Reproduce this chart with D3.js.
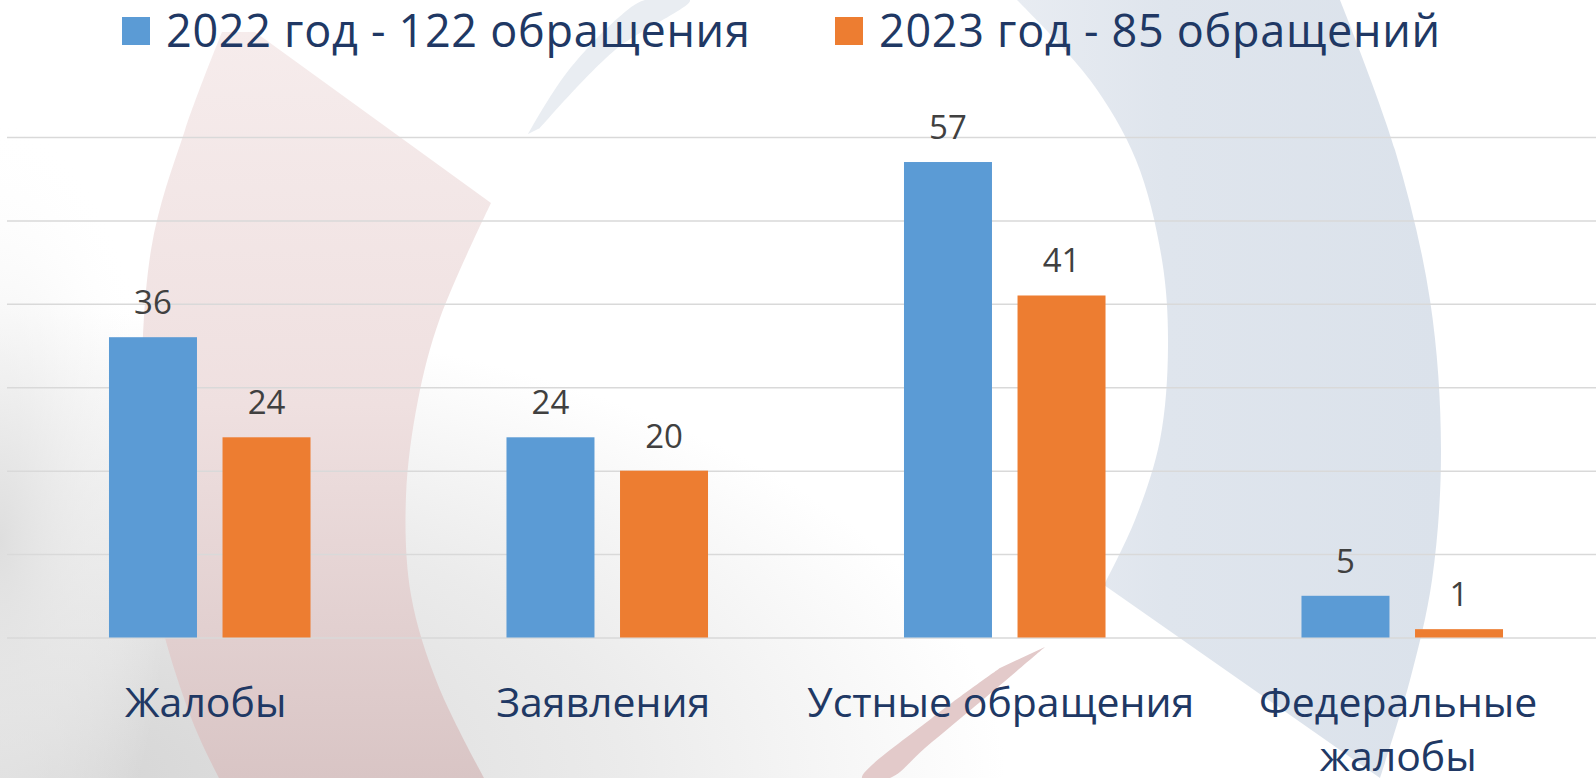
<!DOCTYPE html>
<html>
<head>
<meta charset="utf-8">
<script src="https://cdn.jsdelivr.net/npm/d3@7"></script>
<style>
  body { margin: 0; overflow: hidden; background: #fff; }
</style>
</head>
<body>
<script>
var categories = ["Жалобы", "Заявления", "Устные обращения", "Федеральные жалобы"];
var seriesNames = ["2022 год - 122 обращения", "2023 год - 85 обращений"];
var values2022 = [36, 24, 57, 5];
var values2023 = [24, 20, 41, 1];
var yTicks = [0, 10, 20, 30, 40, 50, 60];
var colors = ["#5b9bd5", "#ed7d31"];

var w = 1596;
var h = 778;
var font = "'Open Sans', 'Noto Sans', sans-serif";

var svg = d3.select("body")
            .append("svg")
            .attr("width", w)
            .attr("height", h);

// --- background decoration (slide template swooshes) ---
var defs = svg.append("defs");

var gGray = defs.append("radialGradient").attr("id", "gray")
    .attr("cx", 0.03).attr("cy", 1.0).attr("r", 0.6);
gGray.append("stop").attr("offset", 0).attr("stop-color", "#d4d4d4");
gGray.append("stop").attr("offset", 0.6).attr("stop-color", "#ebebeb");
gGray.append("stop").attr("offset", 1).attr("stop-color", "#ffffff");

var gLeft = defs.append("radialGradient").attr("id", "left")
    .attr("gradientUnits", "userSpaceOnUse")
    .attr("cx", 0).attr("cy", 0).attr("r", 1)
    .attr("gradientTransform", "translate(0,540) scale(170,420)");
gLeft.append("stop").attr("offset", 0).attr("stop-color", "#dedede").attr("stop-opacity", 1);
gLeft.append("stop").attr("offset", 1).attr("stop-color", "#ffffff").attr("stop-opacity", 0);

var gPink = defs.append("linearGradient").attr("id", "pink")
    .attr("x1", 0).attr("y1", 0).attr("x2", 0).attr("y2", 1);
gPink.append("stop").attr("offset", 0).attr("stop-color", "#f6ecec");
gPink.append("stop").attr("offset", 0.5).attr("stop-color", "#efe0e0");
gPink.append("stop").attr("offset", 1).attr("stop-color", "#d9c5c5");

var gBlue = defs.append("linearGradient").attr("id", "blue")
    .attr("x1", 0).attr("y1", 0).attr("x2", 1).attr("y2", 0);
gBlue.append("stop").attr("offset", 0).attr("stop-color", "#e8ecf2");
gBlue.append("stop").attr("offset", 0.35).attr("stop-color", "#dfe5ed");
gBlue.append("stop").attr("offset", 1).attr("stop-color", "#dbe2eb");

svg.append("rect").attr("width", w).attr("height", h).attr("fill", "#ffffff");
svg.append("rect").attr("width", w).attr("height", h).attr("fill", "url(#gray)");
svg.append("rect").attr("width", 200).attr("height", h).attr("fill", "url(#left)");

var shape = d3.line().curve(d3.curveCatmullRom.alpha(0.5));
function joinPath(a, b) {           // second open curve appended to the first
    return shape(a) + "L" + shape(b).slice(1);
}

// faint swoosh near the top
svg.append("path")
    .attr("d", shape([[528, 134], [565, 75], [618, 18], [645, 0], [690, 0], [615, 50], [540, 128]]) + "Z")
    .attr("fill", "#e9edf2");

// blue crescent
svg.append("path")
    .attr("d", joinPath(
        [[1017, 0], [1090, 80], [1136, 160], [1162, 260], [1168, 347], [1160, 440], [1135, 520], [1104, 585]],
        [[1380, 778], [1410, 680], [1432, 580], [1441, 450], [1430, 300], [1395, 150], [1340, 0]]) + "Z")
    .attr("fill", "url(#blue)");

// pink crescent
svg.append("path")
    .attr("d", joinPath(
        [[222, 32], [185, 130], [151, 250], [142, 447], [155, 595], [192, 720], [219, 778]],
        [[484, 778], [438, 685], [411, 595], [406, 496], [418, 400], [440, 318], [491, 203]]) +
        "L255,32Z")
    .attr("fill", "url(#pink)");

// thin red swoosh at the bottom
svg.append("path")
    .attr("d", shape([[1045, 647], [985, 698], [925, 748], [890, 778], [862, 778], [932, 718], [1000, 668]]) + "Z")
    .attr("fill", "#e3caca");

// --- chart ---
var x = d3.scaleBand()
          .domain(categories)
          .range([11, 1601])
          .paddingInner(0.493)
          .paddingOuter(0.2465);

var xs = d3.scaleBand()
           .domain(d3.range(seriesNames.length))
           .range([0, x.bandwidth()])
           .paddingInner(0.225);

var y = d3.scaleLinear()
          .domain([0, 60])
          .range([637.5, 137]);

var grid = svg.append("g")
    .attr("transform", "translate(7,0)")
    .call(d3.axisLeft(y).tickValues(yTicks).tickSize(-(w - 7)).tickFormat(""));
grid.select(".domain").remove();
grid.selectAll("line").attr("stroke", "#d9d9d9").attr("stroke-width", 1.5);

var table = categories.map(function(c, i) {
    return { cat: c, vals: [values2022[i], values2023[i]] };
});

var groups = svg.selectAll("g.cat")
    .data(table)
    .enter()
    .append("g")
    .attr("class", "cat")
    .attr("transform", function(d) { return "translate(" + x(d.cat) + ",0)"; });

groups.selectAll("rect")
    .data(function(d) { return d.vals; })
    .enter()
    .append("rect")
    .attr("x", function(d, i) { return xs(i); })
    .attr("width", xs.bandwidth())
    .attr("y", function(d) { return y(d); })
    .attr("height", function(d) { return y(0) - y(d); })
    .attr("fill", function(d, i) { return colors[i]; });

groups.selectAll("text.val")
    .data(function(d) { return d.vals; })
    .enter()
    .append("text")
    .attr("class", "val")
    .attr("x", function(d, i) { return xs(i) + xs.bandwidth() / 2; })
    .attr("y", function(d) { return y(d) - 23; })
    .attr("text-anchor", "middle")
    .attr("font-family", font)
    .attr("font-size", 33)
    .attr("fill", "#404040")
    .text(function(d) { return d; });

// category labels, wrapped when wider than the band step
var labelX = x.bandwidth() / 2 - 4;
var catLabels = groups.append("text")
    .attr("x", labelX)
    .attr("y", 717)
    .attr("text-anchor", "middle")
    .attr("font-family", font)
    .attr("font-size", 41)
    .attr("fill", "#203864");

catLabels.each(function(d) {
    var t = d3.select(this);
    var words = d.cat.split(" ");
    t.text(d.cat);
    if (this.getComputedTextLength() > x.step() - 10 && words.length > 1) {
        t.text(null);
        words.forEach(function(wd, k) {
            t.append("tspan")
             .attr("x", labelX)
             .attr("dy", k === 0 ? 0 : 54)
             .text(wd);
        });
    }
});

// legend
var legendX = [122, 835];
var legend = svg.selectAll("g.legend")
    .data(seriesNames)
    .enter()
    .append("g")
    .attr("class", "legend")
    .attr("transform", function(d, i) { return "translate(" + legendX[i] + ",17)"; });

legend.append("rect")
    .attr("width", 28)
    .attr("height", 28)
    .attr("fill", function(d, i) { return colors[i]; });

legend.append("text")
    .attr("x", 44)
    .attr("y", 30)
    .attr("font-family", font)
    .attr("font-size", 45)
    .attr("letter-spacing", 0.7)
    .attr("fill", "#203864")
    .text(function(d) { return d; });
</script>
</body>
</html>
